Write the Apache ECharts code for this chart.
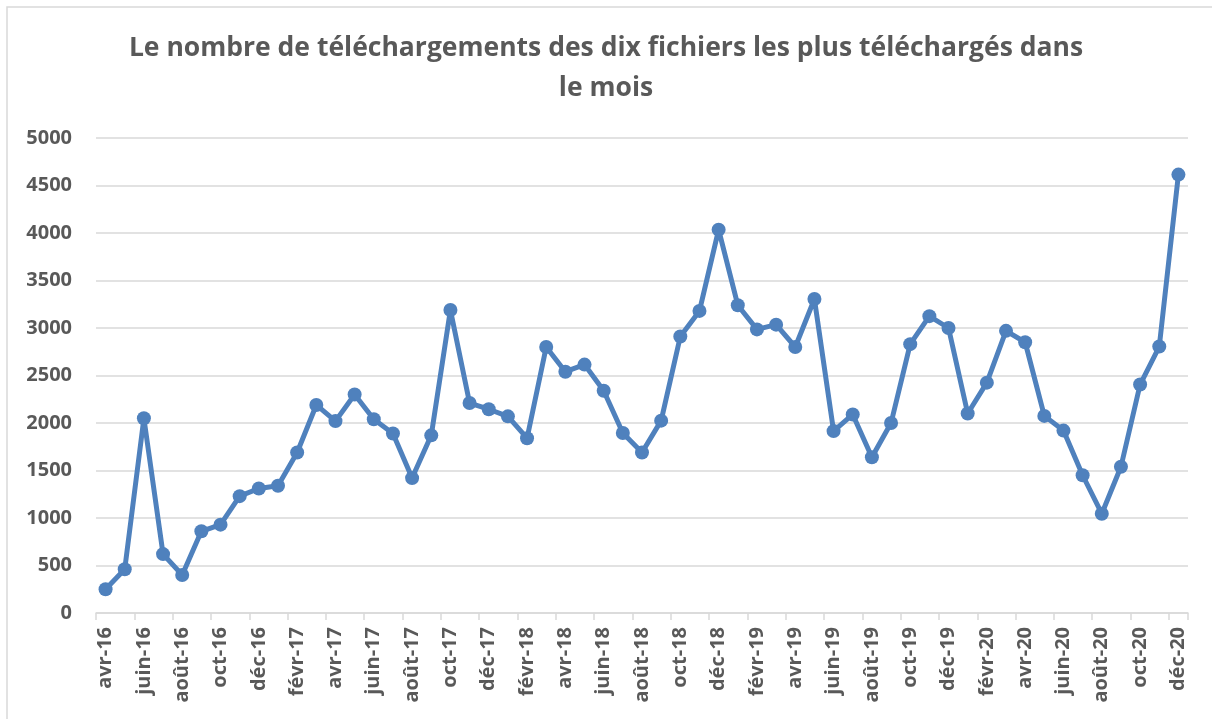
<!DOCTYPE html>
<html>
<head>
<meta charset="utf-8">
<script src="https://cdn.jsdelivr.net/npm/echarts@6/dist/echarts.min.js"></script>
<style>html,body{margin:0;padding:0;background:#fff;}#c{width:1212px;height:719px;}</style>
</head>
<body>
<div id="c"></div>
<script>
const titleText = "Le nombre de téléchargements des dix fichiers les plus téléchargés dans\nle mois";
const months = [
  "avr-16","mai-16","juin-16","juil-16","août-16","sept-16","oct-16","nov-16","déc-16",
  "janv-17","févr-17","mars-17","avr-17","mai-17","juin-17","juil-17","août-17","sept-17","oct-17","nov-17","déc-17",
  "janv-18","févr-18","mars-18","avr-18","mai-18","juin-18","juil-18","août-18","sept-18","oct-18","nov-18","déc-18",
  "janv-19","févr-19","mars-19","avr-19","mai-19","juin-19","juil-19","août-19","sept-19","oct-19","nov-19","déc-19",
  "janv-20","févr-20","mars-20","avr-20","mai-20","juin-20","juil-20","août-20","sept-20","oct-20","nov-20","déc-20"
];
const downloads = [
  250, 460, 2050, 620, 400, 860, 930, 1230, 1310,
  1340, 1690, 2190, 2020, 2300, 2040, 1890, 1420, 1870, 3190, 2210, 2145,
  2070, 1840, 2800, 2540, 2615, 2340, 1895, 1690, 2025, 2910, 3180, 4035,
  3240, 2985, 3035, 2800, 3305, 1915, 2090, 1640, 2000, 2830, 3125, 3000,
  2100, 2425, 2970, 2850, 2075, 1920, 1450, 1045, 1540, 2405, 2805, 4615
];
const yMin = 0, yMax = 5000, yStep = 500;

const chart = echarts.init(document.getElementById('c'), null, {renderer: 'canvas'});
const FONT = '"Open Sans", "Liberation Sans", sans-serif';
chart.setOption({
  animation: false,
  backgroundColor: '#fff',
  graphic: [{
    type: 'rect',
    shape: {x: 7, y: 7, width: 1230, height: 740},
    style: {fill: 'none', stroke: '#d9d9d9', lineWidth: 1.5},
    silent: true
  }],
  title: {
    text: titleText,
    left: 'center',
    top: 28,
    padding: [0, 0, 0, 10],
    textStyle: {
      fontFamily: FONT, fontWeight: 'bold', fontSize: 26.5,
      color: '#595959', lineHeight: 40
    }
  },
  grid: {left: 96, right: 24, top: 138, bottom: 106, containLabel: false},
  xAxis: {
    type: 'category',
    data: months,
    boundaryGap: true,
    axisLine: {lineStyle: {color: '#d9d9d9', width: 1.5}},
    axisTick: {show: true, interval: 1, length: 7, lineStyle: {color: '#d9d9d9', width: 1.5}},
    axisLabel: {
      interval: 1, rotate: 90, margin: 14,
      fontFamily: FONT, fontWeight: 'bold', fontSize: 20, color: '#595959'
    },
    splitLine: {show: false}
  },
  yAxis: {
    type: 'value',
    min: yMin, max: yMax, interval: yStep,
    axisLine: {show: false},
    axisTick: {show: false},
    axisLabel: {
      margin: 24, fontFamily: FONT, fontWeight: 'bold', fontSize: 20, color: '#595959',
      formatter: v => String(v)
    },
    splitLine: {lineStyle: {color: '#d9d9d9', width: 1.5}}
  },
  series: [{
    type: 'line',
    data: downloads,
    symbol: 'circle',
    symbolSize: 14,
    showAllSymbol: true,
    lineStyle: {color: '#4f81bd', width: 5},
    itemStyle: {color: '#4f81bd'}
  }]
});
</script>
</body>
</html>
